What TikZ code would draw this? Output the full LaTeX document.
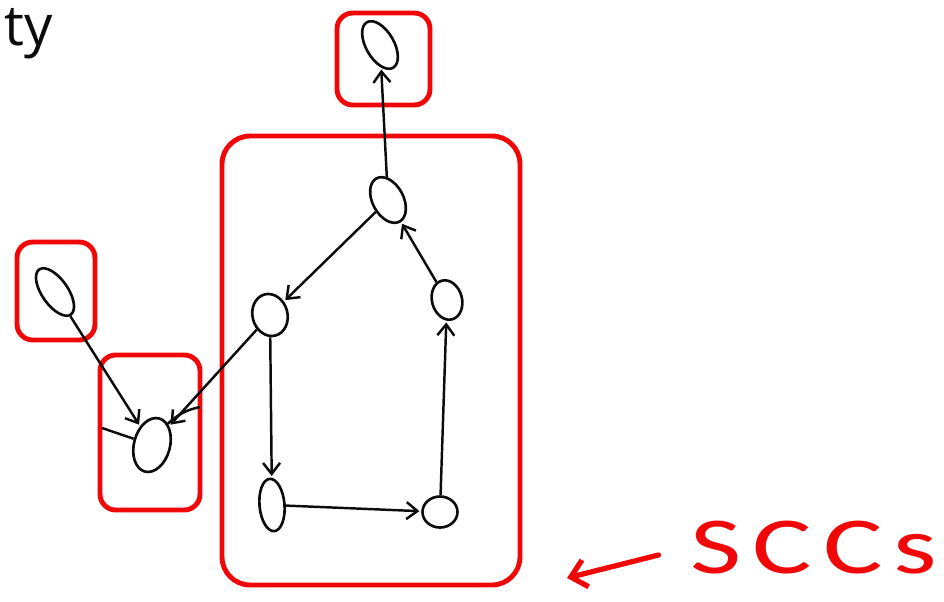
\documentclass[tikz,border=0pt]{standalone}
\usepackage{fontspec}
\setmainfont{Carlito}
\newfontfamily\headfont{Open Sans}
\usepackage{tikz}
\usetikzlibrary{arrows.meta,shapes.geometric}
\definecolor{penred}{RGB}{240,8,8}
\definecolor{penblack}{RGB}{12,12,12}
\tikzset{vertex/.style={ellipse, draw=penblack, line width=1.5pt, inner sep=0pt}, sccbox/.style={draw=penred, line width=2.8pt, rounded corners=9pt}, arrow/.style={-{Straight Barb[length=2.2mm,width=3.4mm]}, line width=1.4pt, draw=penblack, shorten >=1pt}, stub/.style={line width=1.4pt, draw=penblack}, redarrow/.style={-{Straight Barb[length=3mm,width=5.5mm]}, line width=3pt, draw=penred, line cap=round}}

\begin{document}
\begin{tikzpicture}[x=0.02cm, y=-0.02cm]
\useasboundingbox (0,0) rectangle (944,602);
\node[anchor=base west, inner sep=0pt, text=penblack, font=\headfont\fontsize{32}{34}\selectfont] (title) at (4,45) {ty};
\node[vertex, minimum width=0.56cm, minimum height=1.05cm, rotate=30] (a) at (380,45) {};
\node[vertex, minimum width=0.62cm, minimum height=0.98cm, rotate=28] (b) at (388,200) {};
\node[vertex, minimum width=0.7cm, minimum height=0.85cm, rotate=15] (c) at (270,315) {};
\node[vertex, minimum width=0.6cm, minimum height=0.8cm, rotate=15] (f) at (447,300) {};
\node[vertex, minimum width=0.5cm, minimum height=1.05cm, rotate=5] (d) at (272,505) {};
\node[vertex, minimum width=0.7cm, minimum height=0.62cm] (e) at (440,512) {};
\node[vertex, minimum width=0.52cm, minimum height=1.1cm, rotate=35] (g) at (55,292) {};
\node[vertex, minimum width=0.72cm, minimum height=1.1cm, rotate=-15] (h) at (152,445) {};
\draw[sccbox] (337,13) rectangle (430,105);
\draw[sccbox] (17,242) rectangle (95,340);
\draw[sccbox] (100,355) rectangle (200,510);
\draw[sccbox, rounded corners=16pt] (222,136) rectangle (520,585);
\draw[arrow] (b) -- (a);
\draw[arrow] (b) -- (c);
\draw[arrow] (c) -- (d);
\draw[arrow] (d) -- (e);
\draw[arrow] (e) -- (f);
\draw[arrow] (f) -- (b);
\draw[arrow] (g) -- (h);
\draw[arrow] (c) -- (h);
\coordinate (hleft) at (102,428);
\coordinate (hright) at (200,407);
\draw[stub] (hleft) -- (h);
\draw[stub] (hright) to[bend right=15] (h);
\node[anchor=base west, inner sep=0pt, text=penred, font=\fontsize{46}{48}\selectfont\addfontfeature{LetterSpace=10}] (sccs) at (690,573) {\scalebox{1.38}[1]{SCCs}};
\coordinate (scctip) at (567,578);
\draw[redarrow, shorten <=0.65cm] (sccs.west) -- (scctip);
\end{tikzpicture}
\end{document}
